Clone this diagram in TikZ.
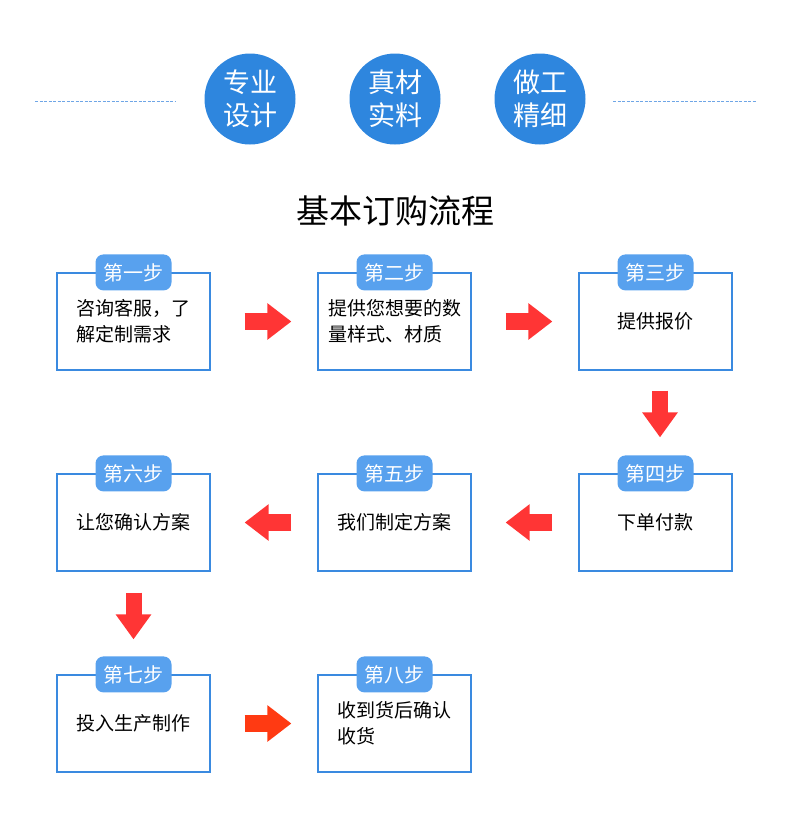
\documentclass[tikz,border=0pt]{standalone}
\usepackage{fontspec}
\setmainfont{Noto Sans CJK SC}
\usetikzlibrary{positioning, arrows.meta, calc}

\definecolor{circblue}{HTML}{2E86DE}
\definecolor{tagblue}{HTML}{58A1EE}
\definecolor{boxblue}{HTML}{3A8AE0}
\definecolor{dashblue}{HTML}{6FA6E6}
\definecolor{arrowred}{HTML}{FF3535}
\definecolor{arroworange}{HTML}{FF3A12}

\begin{document}
\begin{tikzpicture}[x=1pt, y=-1pt,
  badge/.style={circle, fill=circblue, minimum size=91pt, inner sep=0pt, text=white, align=center, font=\fontsize{27}{33}\selectfont},
  stepbox/.style={draw=boxblue, line width=1.2pt, minimum width=153pt, minimum height=97pt, align=left, font=\fontsize{19}{26}\selectfont},
  steptag/.style={fill=tagblue, rounded corners=8pt, minimum width=76pt, minimum height=36pt, inner sep=0pt, text=white, font=\fontsize{20}{24}\selectfont},
  flow/.style={line width=17pt, draw=arrowred, -{Triangle[length=24pt, width=35pt]}},
  flowdown/.style={line width=16pt, draw=arrowred, -{Triangle[length=25pt, width=34pt]}, shorten <=20pt, shorten >=36pt},
]
    \useasboundingbox (0,0) rectangle (790,831);

    % Dashed rules
    \coordinate (dl1) at (35,101);
    \coordinate (dl2) at (176,101);
    \coordinate (dr1) at (613,101);
    \coordinate (dr2) at (756,101);
    \draw[dashblue, line width=1pt, dash pattern=on 3pt off 1.5pt] (dl1) -- (dl2);
    \draw[dashblue, line width=1pt, dash pattern=on 3pt off 1.5pt] (dr1) -- (dr2);

    % Badges
    \node[badge] (design) at (250,99) {专业\\设计};
    \node[badge] (material) at (395,99) {真材\\实料};
    \node[badge] (craft) at (540,99) {做工\\精细};

    % Title
    \node[font=\fontsize{33}{38}\selectfont] (title) at (395,211) {基本订购流程};

    % Steps
    \node[stepbox] (b1) at (133.5,321.5) {咨询客服，了\\解定制需求};
    \node[stepbox] (b2) at (394.5,321.5) {提供您想要的数\\量样式、材质};
    \node[stepbox] (b3) at (655.5,321.5) {提供报价};
    \node[stepbox] (b4) at (655.5,522.5) {下单付款};
    \node[stepbox] (b5) at (394.5,522.5) {我们制定方案};
    \node[stepbox] (b6) at (133.5,522.5) {让您确认方案};
    \node[stepbox] (b7) at (133.5,723.5) {投入生产制作};
    \node[stepbox] (b8) at (394.5,723.5) {收到货后确认\\收货};

    % Tags
    \node[steptag] (t1) at (b1.north) {第一步};
    \node[steptag] (t2) at (b2.north) {第二步};
    \node[steptag] (t3) at (b3.north) {第三步};
    \node[steptag] (t4) at (b4.north) {第四步};
    \node[steptag] (t5) at (b5.north) {第五步};
    \node[steptag] (t6) at (b6.north) {第六步};
    \node[steptag] (t7) at (b7.north) {第七步};
    \node[steptag] (t8) at (b8.north) {第八步};

    % Arrows
    \draw[flow, shorten <=34pt, shorten >=26pt] (b1) -- (b2);
    \draw[flow, shorten <=34pt, shorten >=26pt] (b2) -- (b3);
    \draw[flowdown] ([xshift=4.5pt]b3.south) -- ([xshift=4.5pt]b4.north);
    \draw[flow, shorten <=26pt, shorten >=34pt] (b4) -- (b5);
    \draw[flow, shorten <=26pt, shorten >=34pt] (b5) -- (b6);
    \draw[flowdown, shorten <=21pt, shorten >=35pt] (b6) -- (b7);
    \draw[flow, draw=arroworange, shorten <=34pt, shorten >=26pt] (b7) -- (b8);
\end{tikzpicture}
\end{document}
